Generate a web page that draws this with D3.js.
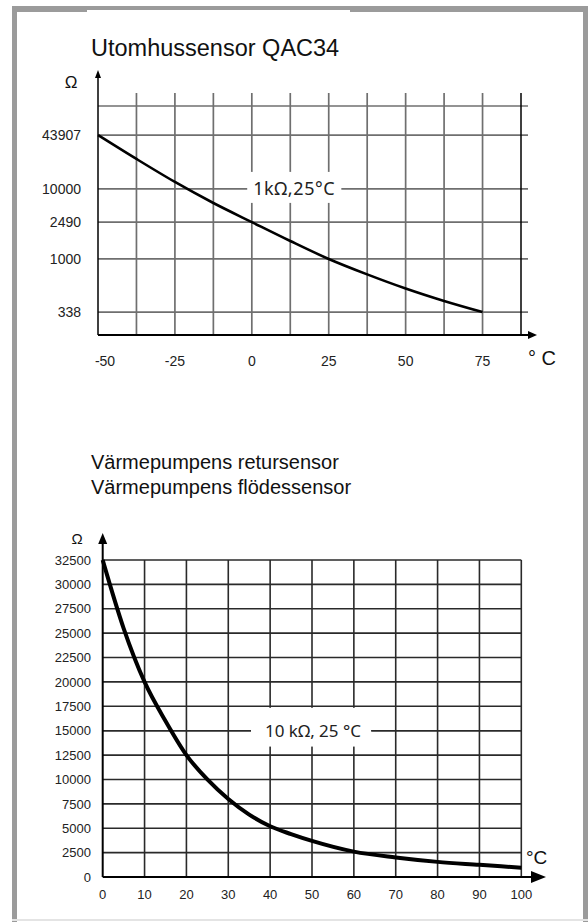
<!DOCTYPE html>
<html><head><meta charset="utf-8">
<script src="https://cdn.jsdelivr.net/npm/d3@7/dist/d3.min.js"></script>
<style>body{margin:0;background:#fff}svg{display:block}</style>
</head><body>
<script>
// ---------- data ----------
const topTitle = "Utomhussensor QAC34";
const topXGrid = [-50,-37.5,-25,-12.5,0,12.5,25,37.5,50,62.5,75,87.5];
const topXTicks = [-50,-25,0,25,50,75];
const topYTicks = [338,1000,2490,10000,43907];
const topTemp = [-50,-37.5,-25,-12.5,0,12.5,25,37.5,50,62.5,75];
const topRes  = [43907,22760,12100,5540,2490,1560,1000,730,547,424,338];
const topNote = "1kΩ,25°C";

const botTitles = ["Värmepumpens retursensor","Värmepumpens flödessensor"];
const botXTicks = [0,10,20,30,40,50,60,70,80,90,100];
const botYTicks = [0,2500,5000,7500,10000,12500,15000,17500,20000,22500,25000,27500,30000,32500];
const botTemp = [0,5,10,15,20,25,30,35,40,45,50,60,70,80,90,100];
const botRes  = [32500,25500,20000,16000,12500,10000,8000,6400,5200,4400,3700,2600,2000,1550,1250,950];
const botNote = "10 kΩ, 25 °C";

// ---------- layout ----------
const W = 588, H = 922;
const svg = d3.select("body").append("svg").attr("width", W).attr("height", H);
const tickFont = "'Liberation Sans', Arial, sans-serif";
const noteFont = "'Noto Sans', 'Open Sans', sans-serif";

// frame
svg.append("rect").attr("x",12).attr("y",6).attr("width",576).attr("height",6).attr("fill","#9b9b9b");
svg.append("rect").attr("x",12).attr("y",6).attr("width",5).attr("height",916).attr("fill","#9b9b9b");
svg.append("rect").attr("x",583).attr("y",6).attr("width",5).attr("height",916).attr("fill","#9b9b9b");
svg.append("rect").attr("x",12).attr("y",919).attr("width",576).attr("height",2).attr("fill","#e4e4e4");
svg.append("rect").attr("x",87).attr("y",10).attr("width",263).attr("height",3).attr("fill","#fff");

function arrow(g, x, y, dir, len, half) {
  let pts;
  if (dir === "up") pts = [[x, y], [x-half, y+len], [x+half, y+len]];
  else pts = [[x, y], [x-len, y-half], [x-len, y+half]];
  g.append("path").attr("d", d3.line()(pts) + "Z").attr("fill", "#000");
}

// ================= TOP CHART =================
{
  const P = {left: 98, right: 521, top: 106, bottom: 335, gridTop: 93, hExt: 528};
  const levelFrac = [0.1, 0.332, 0.493, 0.638, 0.873];
  const x = d3.scaleLinear().domain([topXGrid[0], topXGrid[topXGrid.length-1]]).range([P.left, P.right]);
  const y = d3.scaleLog().domain(topYTicks)
      .range(levelFrac.map(f => P.bottom - f*(P.bottom - P.top)));
  const g = svg.append("g");

  g.append("text").attr("x", 91).attr("y", 56).attr("font-family", tickFont)
    .attr("font-size", 23.5).attr("fill", "#111").text(topTitle);

  const gridC = "#6f6f6f", gridW = 1.7;
  g.selectAll(".vg").data(topXGrid.slice(1, -1)).join("line")
    .attr("x1", d => x(d)).attr("x2", d => x(d)).attr("y1", P.gridTop).attr("y2", P.bottom)
    .attr("stroke", gridC).attr("stroke-width", gridW);
  g.selectAll(".hg").data([P.top].concat(topYTicks.map(v => y(v)))).join("line")
    .attr("x1", P.left).attr("x2", P.hExt).attr("y1", d => d).attr("y2", d => d)
    .attr("stroke", gridC).attr("stroke-width", gridW);

  const ny = y(10000);
  const nt = g.append("text").attr("x", x(12.5) + 4).attr("y", ny + 6)
    .attr("text-anchor", "middle").attr("font-family", noteFont).attr("font-size", 18)
    .attr("letter-spacing", 0.6).attr("fill", "#222").text(topNote);
  const bb = nt.node().getBBox();
  g.append("rect").attr("x", bb.x - 6).attr("y", ny - 17)
    .attr("width", bb.width + 12).attr("height", 31).attr("fill", "#fff");
  nt.raise();

  g.append("line").attr("x1", x(87.5)).attr("x2", x(87.5)).attr("y1", P.gridTop).attr("y2", P.bottom)
    .attr("stroke", "#000").attr("stroke-width", 1.5);
  g.append("line").attr("x1", P.left).attr("x2", P.left).attr("y1", P.bottom).attr("y2", 76)
    .attr("stroke", "#000").attr("stroke-width", 1.5);
  arrow(g, P.left, 70, "up", 8, 3);
  g.append("line").attr("x1", P.left).attr("x2", 530).attr("y1", P.bottom).attr("y2", P.bottom)
    .attr("stroke", "#000").attr("stroke-width", 2);
  arrow(g, 537, P.bottom, "right", 9, 4);

  const line = d3.line().x(d => x(d[0])).y(d => y(d[1])).curve(d3.curveMonotoneX);
  g.append("path").datum(topTemp.map((t, i) => [t, topRes[i]])).attr("d", line)
    .attr("fill", "none").attr("stroke", "#000").attr("stroke-width", 2.6);

  g.selectAll(".xl").data(topXTicks).join("text")
    .attr("x", (d, i) => x(d) + (i === 0 ? 7 : 0)).attr("y", 366).attr("text-anchor", "middle")
    .attr("font-family", tickFont).attr("font-size", 14).attr("fill", "#222").text(d => d);
  g.selectAll(".yl").data(topYTicks).join("text")
    .attr("x", 81).attr("y", d => y(d)).attr("dy", "0.36em").attr("text-anchor", "end")
    .attr("font-family", tickFont).attr("font-size", 14).attr("fill", "#222").text(d => d);
  g.append("text").attr("x", 71).attr("y", 88).attr("text-anchor", "middle")
    .attr("font-family", tickFont).attr("font-size", 17).attr("fill", "#111").text("Ω");
  g.append("text").attr("x", 528).attr("y", 365)
    .attr("font-family", tickFont).attr("font-size", 20).attr("fill", "#111").text("° C");
}

// ================= BOTTOM CHART =================
{
  const P = {left: 102.7, right: 521.3, top: 560, bottom: 877};
  const x = d3.scaleLinear().domain([0, 100]).range([P.left, P.right]);
  const y = d3.scaleLinear().domain([0, 32500]).range([P.bottom, P.top]);
  const g = svg.append("g");

  g.selectAll(".title").data(botTitles).join("text")
    .attr("x", 91).attr("y", (d, i) => 469 + i * 25).attr("font-family", tickFont)
    .attr("font-size", 20).attr("fill", "#111").text(d => d);

  const gridC = "#2a2a2a", gridW = 1.6;
  g.selectAll(".vg").data(botXTicks.slice(1)).join("line")
    .attr("x1", d => x(d)).attr("x2", d => x(d)).attr("y1", P.top).attr("y2", P.bottom)
    .attr("stroke", gridC).attr("stroke-width", gridW);
  g.selectAll(".hg").data(botYTicks.slice(1)).join("line")
    .attr("x1", P.left).attr("x2", P.right).attr("y1", d => y(d)).attr("y2", d => y(d))
    .attr("stroke", gridC).attr("stroke-width", gridW);

  const ny = y(15000);
  const nt = g.append("text").attr("x", 313).attr("y", ny + 6)
    .attr("text-anchor", "middle").attr("font-family", noteFont).attr("font-size", 17)
    .attr("fill", "#222").text(botNote);
  const bb = nt.node().getBBox();
  g.append("rect").attr("x", bb.x - 14).attr("y", y(17500) + 1.5)
    .attr("width", bb.width + 24).attr("height", y(12500) - y(17500) - 10).attr("fill", "#fff");
  g.append("line").attr("x1", P.left).attr("x2", bb.x - 14).attr("y1", ny).attr("y2", ny)
    .attr("stroke", gridC).attr("stroke-width", gridW);
  g.append("line").attr("x1", bb.x + bb.width + 10).attr("x2", P.right).attr("y1", ny).attr("y2", ny)
    .attr("stroke", gridC).attr("stroke-width", gridW);
  nt.raise();

  g.append("line").attr("x1", P.left).attr("x2", P.left).attr("y1", P.bottom).attr("y2", 543)
    .attr("stroke", "#000").attr("stroke-width", 2);
  arrow(g, P.left, 533, "up", 11, 4.5);
  g.append("line").attr("x1", P.left).attr("x2", 533).attr("y1", P.bottom).attr("y2", P.bottom)
    .attr("stroke", "#000").attr("stroke-width", 2);
  arrow(g, 546, P.bottom, "right", 15, 6);

  const line = d3.line().x(d => x(d[0])).y(d => y(d[1])).curve(d3.curveMonotoneX);
  g.append("path").datum(botTemp.map((t, i) => [t, botRes[i]])).attr("d", line)
    .attr("fill", "none").attr("stroke", "#000").attr("stroke-width", 4);

  g.selectAll(".xl").data(botXTicks).join("text")
    .attr("x", d => x(d)).attr("y", 899).attr("text-anchor", "middle")
    .attr("font-family", tickFont).attr("font-size", 13).attr("fill", "#222").text(d => d);
  g.selectAll(".yl").data(botYTicks).join("text")
    .attr("x", 91).attr("y", d => y(d)).attr("dy", "0.36em").attr("text-anchor", "end")
    .attr("font-family", tickFont).attr("font-size", 13).attr("fill", "#222").text(d => d);
  g.append("text").attr("x", 77).attr("y", 544).attr("text-anchor", "middle")
    .attr("font-family", tickFont).attr("font-size", 15).attr("fill", "#111").text("Ω");
  g.append("text").attr("x", 526).attr("y", 864)
    .attr("font-family", tickFont).attr("font-size", 19).attr("fill", "#111").text("°C");
}
</script>
</body></html>
